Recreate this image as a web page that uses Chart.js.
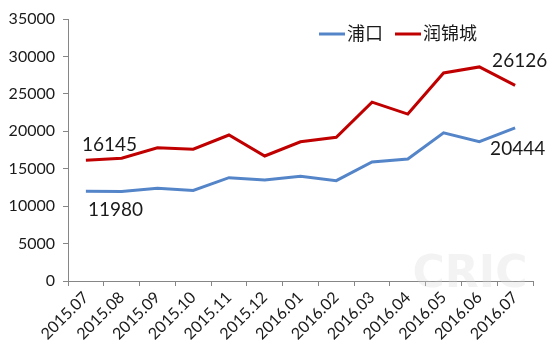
<!DOCTYPE html>
<html>
<head>
<meta charset="utf-8">
<script src="https://cdn.jsdelivr.net/npm/chart.js@4.4.1/dist/chart.umd.min.js"></script>
<style>
  html, body { margin: 0; padding: 0; background: #fff; }
  #wrap { position: relative; width: 555px; height: 356px; }
</style>
</head>
<body>
<div id="wrap"><canvas id="line-chart" width="555" height="356"></canvas></div>
<script>
const months = ['2015.07', '2015.08', '2015.09', '2015.10', '2015.11', '2015.12', '2016.01',
  '2016.02', '2016.03', '2016.04', '2016.05', '2016.06', '2016.07'];
const pukou = [11980, 11950, 12400, 12100, 13800, 13500, 14000, 13400, 15900, 16300, 19800, 18600, 20444];
const runjin = [16145, 16400, 17800, 17600, 19500, 16700, 18600, 19200, 23900, 22300, 27800, 28600, 26126];
const yTicks = [0, 5000, 10000, 15000, 20000, 25000, 30000, 35000];

const FONT = 'Lato, "Noto Sans CJK SC", sans-serif';

// labels on the first and last points, plus the legend and faint watermark
const extras = {
  id: 'extras',
  afterDatasetsDraw(chart) {
    const ctx = chart.ctx;
    const m0 = chart.getDatasetMeta(0).data;
    const m1 = chart.getDatasetMeta(1).data;
    const last = months.length - 1;
    ctx.save();
    ctx.font = '19px ' + FONT;
    ctx.fillStyle = '#1a1a1a';
    ctx.textBaseline = 'middle';
    ctx.textAlign = 'left';
    ctx.fillText(String(runjin[0]), m1[0].x - 4, m1[0].y - 15);
    ctx.fillText(String(pukou[0]), m0[0].x + 2, m0[0].y + 19);
    ctx.fillText(String(runjin[last]), m1[last].x - 23, m1[last].y - 25);
    ctx.fillText(String(pukou[last]), m0[last].x - 25, m0[last].y + 21);

    // legend
    ctx.font = '18px ' + FONT;
    const items = [['浦口', '#5585c9', 319], ['润锦城', '#c00000', 395]];
    items.forEach(([name, color, x]) => {
      ctx.strokeStyle = color;
      ctx.lineWidth = 3;
      ctx.beginPath();
      ctx.moveTo(x, 34);
      ctx.lineTo(x + 26, 34);
      ctx.stroke();
      ctx.fillStyle = '#1a1a1a';
      ctx.fillText(name, x + 28, 34);
    });

    // watermark
    ctx.font = 'bold 44px "DejaVu Sans", sans-serif';
    ctx.fillStyle = 'rgba(215,215,215,0.3)';
    ctx.textAlign = 'center';
    ctx.fillText('CRIC', 470, 276);
    ctx.restore();
  }
};

const config = {
  type: 'line',
  data: {
    labels: months,
    datasets: [
      {
        label: '浦口',
        data: pukou,
        borderColor: '#5585c9',
        backgroundColor: '#5585c9',
        borderWidth: 3,
        pointRadius: 0,
        tension: 0,
      },
      {
        label: '润锦城',
        data: runjin,
        borderColor: '#c00000',
        backgroundColor: '#c00000',
        borderWidth: 3,
        pointRadius: 0,
        tension: 0,
      },
    ],
  },
  options: {
    responsive: false,
    animation: false,
    layout: { padding: { top: 19, right: 22, left: 0, bottom: 0 } },
    plugins: {
      legend: { display: false },
      tooltip: { enabled: false },
    },
    scales: {
      x: {
        offset: true,
        grid: {
          offset: true,
          drawOnChartArea: false,
          tickLength: 5,
          color: '#868686',
        },
        border: { color: '#868686' },
        ticks: {
          color: '#1a1a1a',
          font: { family: FONT, size: 16 },
          minRotation: 45,
          maxRotation: 45,
          padding: 2,
        },
        afterFit(scale) { scale.height = 75; },
      },
      y: {
        min: 0,
        max: 35000,
        afterBuildTicks(scale) { scale.ticks = yTicks.map(v => ({ value: v })); },
        grid: {
          drawOnChartArea: false,
          tickLength: 5,
          color: '#868686',
        },
        border: { color: '#868686' },
        ticks: {
          color: '#1a1a1a',
          font: { family: FONT, size: 16 },
          padding: 8,
          callback: (v) => String(v),
        },
        afterFit(scale) { scale.width = 68; },
      },
    },
  },
  plugins: [extras],
};

new Chart(document.getElementById('line-chart').getContext('2d'), config);
</script>
</body>
</html>
